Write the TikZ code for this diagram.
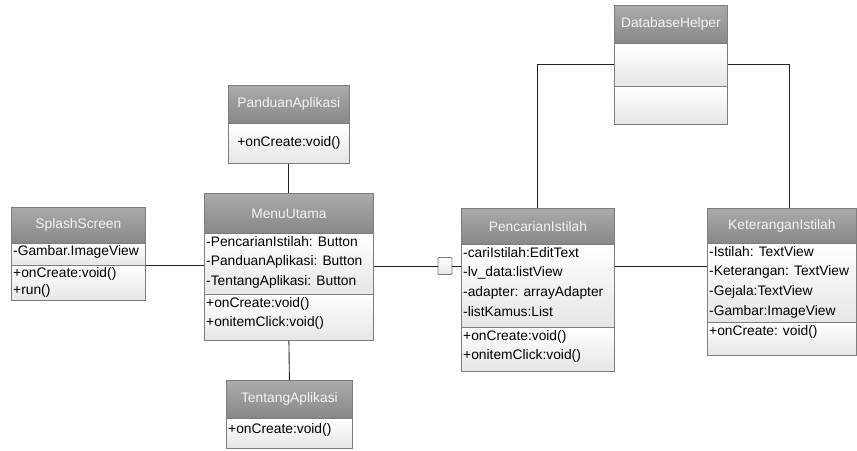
\documentclass[tikz,border=0pt]{standalone}
\usepackage{fontspec}
\setmainfont{Liberation Sans}
\usepackage{tikz}
\definecolor{headtop}{RGB}{170,170,170}
\definecolor{headbot}{RGB}{136,136,136}
\definecolor{headtext}{RGB}{244,244,244}
\definecolor{partbot}{RGB}{230,230,230}
\definecolor{boxline}{RGB}{125,125,125}
\definecolor{linegray}{RGB}{35,35,35}
\newcommand{\classfont}{\fontsize{13.8}{19.7}\selectfont}
\tikzstyle{head} = [draw=boxline, line width=0.8pt, top color=headtop, bottom color=headbot, text=headtext, anchor=north west, inner sep=0pt, font=\classfont]
\tikzstyle{part} = [draw=boxline, line width=0.8pt, top color=white, bottom color=partbot, anchor=north west, inner sep=0pt]
\tikzstyle{txt} = [below right, align=left, inner xsep=2pt, inner ysep=3pt, font=\classfont]
\tikzstyle{link} = [draw=linegray, line width=0.9pt]

\begin{document}
\begin{tikzpicture}[yscale=-1]
			\useasboundingbox (0pt,0pt) rectangle (857pt,450pt);
			\node (splashH) [head, minimum width=134pt, minimum height=36pt] at (11pt,207pt) {SplashScreen};
			\node (splashA) [part, minimum width=134pt, minimum height=22pt] at (11pt,243pt) {};
			\node (splashM) [part, minimum width=134pt, minimum height=35pt] at (11pt,265pt) {};
			\node (splashAt) [txt, inner ysep=2pt] at (splashA.north west) {-Gambar.ImageView};
			\node (splashMt) [txt, inner ysep=2.5pt, font=\fontsize{13.8}{17}\selectfont] at (splashM.north west) {+onCreate:void()\\+run()};
			\node (pandH) [head, minimum width=121pt, minimum height=38pt] at (228pt,85pt) {PanduanAplikasi};
			\node (pandB) [part, minimum width=121pt, minimum height=40pt, font=\classfont] at (228pt,123pt) {+onCreate:void()};
			\node (menuH) [head, minimum width=169pt, minimum height=40pt] at (204pt,193pt) {MenuUtama};
			\node (menuA) [part, minimum width=169pt, minimum height=61pt] at (204pt,233pt) {};
			\node (menuM) [part, minimum width=169pt, minimum height=46pt] at (204pt,294pt) {};
			\node (menuAt) [txt] at (menuA.north west) {-PencarianIstilah: Button\\-PanduanAplikasi: Button\\-TentangAplikasi: Button};
			\node (menuMt) [txt] at (menuM.north west) {+onCreate:void()\\+onitemClick:void()};
			\node (tentH) [head, minimum width=126pt, minimum height=38pt] at (226pt,380pt) {TentangAplikasi};
			\node (tentB) [part, minimum width=126pt, minimum height=30pt] at (226pt,418pt) {};
			\node (tentBt) [txt, inner ysep=5pt] at (tentB.north west) {+onCreate:void()};
			\node (dbH) [head, minimum width=113pt, minimum height=38pt] at (614pt,5pt) {DatabaseHelper};
			\node (dbA) [part, minimum width=113pt, minimum height=43pt] at (614pt,43pt) {};
			\node (dbM) [part, minimum width=113pt, minimum height=38pt] at (614pt,86pt) {};
			\node (pencH) [head, minimum width=153pt, minimum height=36pt] at (461pt,208pt) {PencarianIstilah};
			\node (pencA) [part, minimum width=153pt, minimum height=83pt] at (461pt,244pt) {};
			\node (pencM) [part, minimum width=153pt, minimum height=44pt] at (461pt,327pt) {};
			\node (pencAt) [txt] at (pencA.north west) {-cariIstilah:EditText\\-lv\_data:listView\\-adapter: arrayAdapter\\-listKamus:List};
			\node (pencMt) [txt] at (pencM.north west) {+onCreate:void()\\+onitemClick:void()};
			\node (ketH) [head, minimum width=149pt, minimum height=35pt] at (707pt,208pt) {KeteranganIstilah};
			\node (ketA) [part, minimum width=149pt, minimum height=79pt] at (707pt,243pt) {};
			\node (ketM) [part, minimum width=149pt, minimum height=33pt] at (707pt,322pt) {};
			\node (ketAt) [txt] at (ketA.north west) {-Istilah: TextView\\-Keterangan: TextView\\-Gejala:TextView\\-Gambar:ImageView};
			\node (ketMt) [txt] at (ketM.north west) {+onCreate: void()};
			\node (agg) [draw=boxline, line width=0.8pt, top color=white, bottom color=partbot, rounded corners=1pt, minimum width=14pt, minimum height=17pt, inner sep=0pt] at (445pt,266pt) {};
			\draw[link] (splashA.south east) -- (splashA.south east -| menuA.west);
			\draw[link] (menuA.east |- agg) -- (agg.west);
			\draw[link] (agg.east) -- (agg -| pencA.west);
			\draw[link] (pencA.east |- agg) -- (agg -| ketA.west);
			\draw[link] (pandB.south) -- (menuH.north);
			\draw[link] (menuM.south) -- (tentH.north);
			\draw[link] (pencH.north) |- (dbA.west);
			\draw[link] (dbA.east) -| ([xshift=8pt]ketH.north);
		\end{tikzpicture}
\end{document}
